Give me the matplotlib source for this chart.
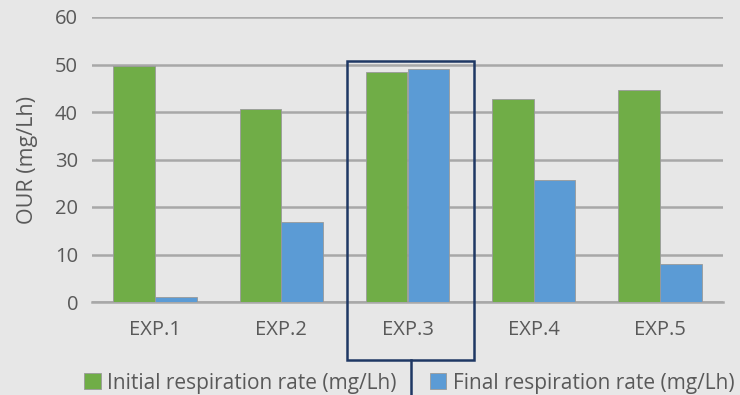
import matplotlib
matplotlib.use("Agg")
import matplotlib.pyplot as plt
from matplotlib.patches import Rectangle
import numpy as np

categories = ["EXP.1", "EXP.2", "EXP.3", "EXP.4", "EXP.5"]
initial = [49.7, 40.6, 48.4, 42.7, 44.6]
final = [1.0, 16.8, 49.1, 25.7, 8.0]
series_names = ["Initial respiration rate (mg/Lh)", "Final respiration rate (mg/Lh)"]
yticks = [0, 10, 20, 30, 40, 50, 60]

plt.rcParams['font.family'] = ['Open Sans', 'DejaVu Sans']
bg = "#e7e7e7"
txt = "#595959"
green = "#70ad47"
blue = "#5b9bd5"

fig = plt.figure(figsize=(7.4, 3.95), dpi=100, facecolor=bg)
ax = fig.add_axes([92/740, 1-302/395, (723-92)/740, (302-17)/395])
ax.set_facecolor(bg)

x = np.arange(len(categories))
w = 0.33
b1 = ax.bar(x - w/2, initial, w, color=green, edgecolor="#9a9a9a", linewidth=0.6, zorder=3, label=series_names[0])
b2 = ax.bar(x + w/2, final, w, color=blue, edgecolor="#9a9a9a", linewidth=0.6, zorder=3, label=series_names[1])

ax.set_xlim(-0.5, len(categories) - 0.5)
ax.set_ylim(0, 60)
ax.set_yticks(yticks)
ax.set_xticks(x)
ax.set_xticklabels(categories)
ax.yaxis.grid(True, color="#a8a8a8", linewidth=1.8, zorder=0)
ax.set_axisbelow(True)
for s in ["top", "right", "left"]:
    ax.spines[s].set_visible(False)
ax.spines["bottom"].set_color("#a8a8a8")
ax.spines["bottom"].set_linewidth(1.8)
ax.tick_params(axis="both", length=0, colors=txt, labelsize=14.5)
ax.tick_params(axis="y", pad=10)
ax.tick_params(axis="x", pad=13)
ax.set_ylabel("OUR (mg/Lh)", color=txt, fontsize=15.5, labelpad=12)

# highlight box around EXP.3
rect = Rectangle((1.52, -12.2), 1.01, 62.9, fill=False, edgecolor="#1f3864",
                 linewidth=1.8, clip_on=False, zorder=5)
ax.add_patch(rect)
ax.plot([2.03, 2.03], [-12.2, -20], color="#1f3864", linewidth=1.8, clip_on=False, zorder=5)

leg = fig.legend(handles=[b1, b2], labels=series_names, loc="center",
                 bbox_to_anchor=(409/740, 1-383/395), ncol=2, frameon=False, fontsize=15,
                 handlelength=0.8, handleheight=0.8, handletextpad=0.3, columnspacing=1.6,
                 borderpad=0, borderaxespad=0)
for t in leg.get_texts():
    t.set_color(txt)

fig.savefig("out.png", dpi=100, facecolor=bg)
